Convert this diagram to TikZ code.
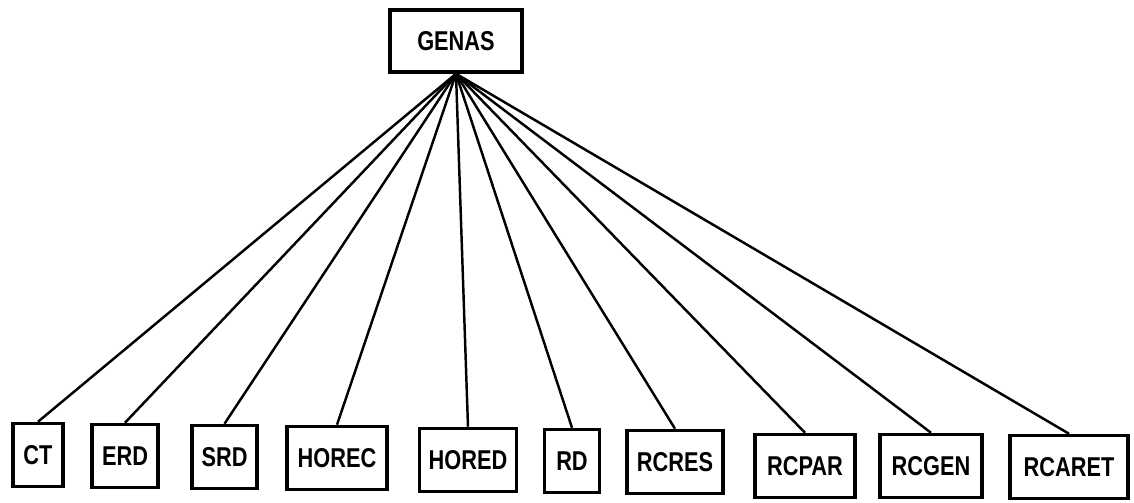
\documentclass[tikz,border=0pt]{standalone}
\usepackage{fontspec}
\setmainfont[FakeStretch=0.8]{Liberation Sans}
\tikzset{
  modul/.style={draw,line width=2pt,minimum height=1.26cm,inner sep=0pt,
    font=\fontsize{15.5}{18}\selectfont\bfseries},
  verb/.style={line width=1.4pt}
}
\begin{document}
\begin{tikzpicture}[x=0.02cm,y=-0.02cm]
	\useasboundingbox (0,0) rectangle (1134,503);
	\node[modul,minimum width=132*0.02cm,minimum height=1.24cm] (GENAS) at (456,41) {GENAS};
	% untere Ebene
	\foreach \n/\x/\y/\w in {CT/38/455/50,ERD/125/456/66,SRD/224.5/457/65,
		HOREC/337/458/100,HORED/468/460/97,RD/572/461/55,RCRES/675/462/96,
		RCPAR/805/466/100,RCGEN/931/466/102,RCARET/1069/467/118}
	\node[modul,minimum width=\w*0.02cm] (\n) at (\x,\y) {\n};
	\foreach \n in {CT,ERD,SRD,HOREC,HORED,RD,RCRES,RCPAR,RCGEN,RCARET}
	\draw[verb] (GENAS.south) -- (\n.north);
\end{tikzpicture}
\end{document}
